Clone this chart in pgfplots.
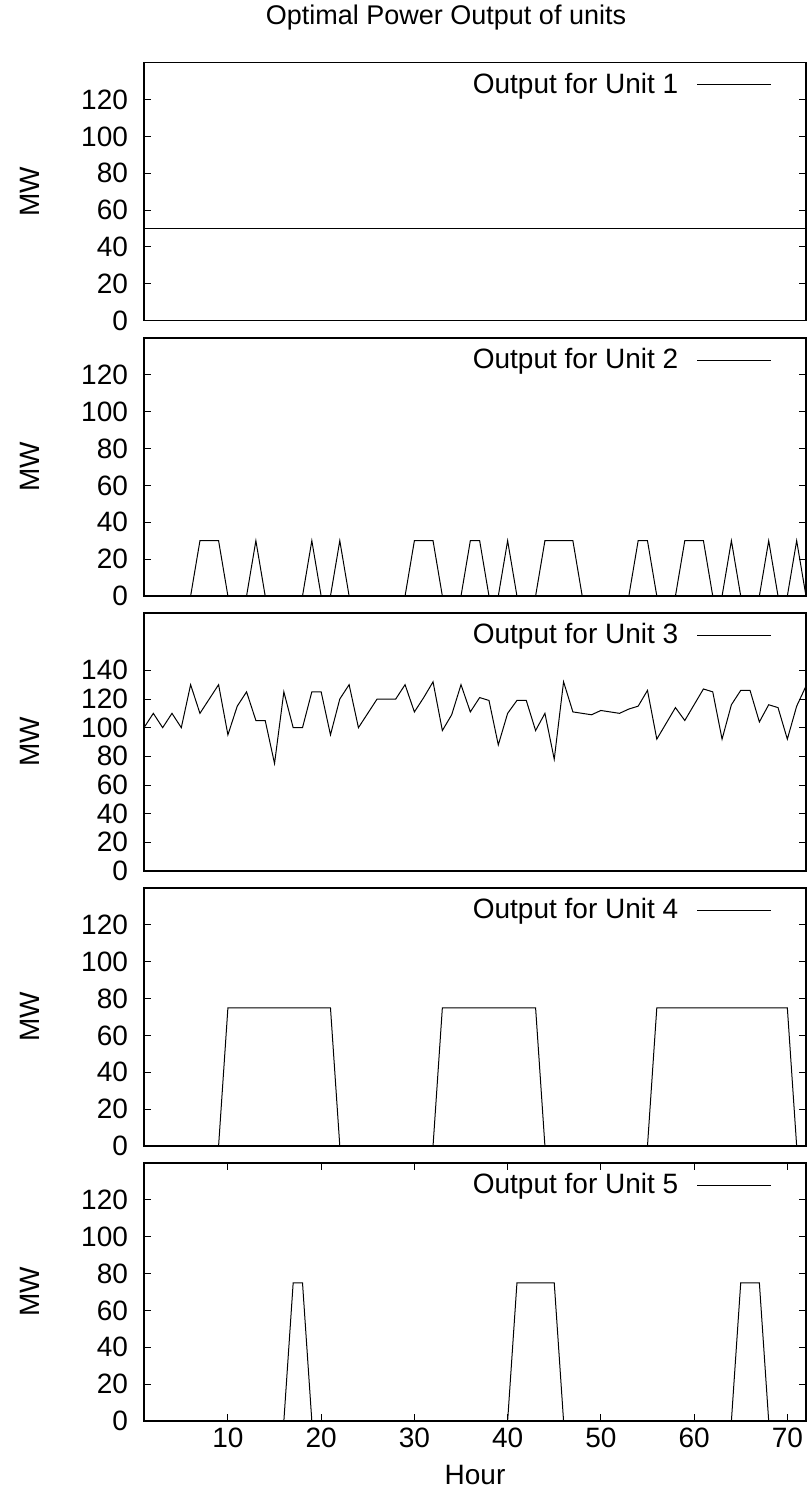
\documentclass[border=0pt]{standalone}
\usepackage{pgfplots}
\pgfplotsset{compat=1.18}
\usepackage{pgfplotstable}
\usepackage{fontspec}
\setmainfont{Liberation Sans}
\newcommand\fs{\fontsize{14}{16}\selectfont}
\newcommand\fst{\fontsize{13.5}{16}\selectfont}

\pgfplotstableread{
h u1 u2 u3 u4 u5
1 50 0 100 0 0
2 50 0 110 0 0
3 50 0 100 0 0
4 50 0 110 0 0
5 50 0 100 0 0
6 50 0 130 0 0
7 50 30 110 0 0
8 50 30 120 0 0
9 50 30 130 0 0
10 50 0 95 75 0
11 50 0 115 75 0
12 50 0 125 75 0
13 50 30 105 75 0
14 50 0 105 75 0
15 50 0 75 75 0
16 50 0 125 75 0
17 50 0 100 75 75
18 50 0 100 75 75
19 50 30 125 75 0
20 50 0 125 75 0
21 50 0 95 75 0
22 50 30 120 0 0
23 50 0 130 0 0
24 50 0 100 0 0
25 50 0 110 0 0
26 50 0 120 0 0
27 50 0 120 0 0
28 50 0 120 0 0
29 50 0 130 0 0
30 50 30 111 0 0
31 50 30 121 0 0
32 50 30 132 0 0
33 50 0 98 75 0
34 50 0 109 75 0
35 50 0 130 75 0
36 50 30 111 75 0
37 50 30 121 75 0
38 50 0 119 75 0
39 50 0 88 75 0
40 50 30 110 75 0
41 50 0 119 75 75
42 50 0 119 75 75
43 50 0 98 75 75
44 50 30 110 0 75
45 50 30 78 0 75
46 50 30 132 0 0
47 50 30 111 0 0
48 50 0 110 0 0
49 50 0 109 0 0
50 50 0 112 0 0
51 50 0 111 0 0
52 50 0 110 0 0
53 50 0 113 0 0
54 50 30 115 0 0
55 50 30 126 0 0
56 50 0 92 75 0
57 50 0 103 75 0
58 50 0 114 75 0
59 50 30 105 75 0
60 50 30 116 75 0
61 50 30 127 75 0
62 50 0 125 75 0
63 50 0 92 75 0
64 50 30 116 75 0
65 50 0 126 75 75
66 50 0 126 75 75
67 50 0 104 75 75
68 50 30 116 75 0
69 50 0 114 75 0
70 50 0 92 75 0
71 50 30 115 0 0
72 50 0 129 0 0
}\datatable

\pgfplotsset{
  unitpanel/.style={
    width=331pt, height=129pt, scale only axis,
    xmin=1, xmax=72, ymin=0, ymax=140,
    ytick={0,20,...,120},
    xtick=\empty,
    tick align=inside,
    major tick length=3.5pt,
    tick style={line width=0.5pt, black},
    axis line style={line width=0.7pt},
    ylabel={MW},
    ylabel style={at={(axis description cs:-0.172,0.5)}, anchor=center, font=\fs},
    yticklabel style={xshift=-4.5pt, font=\fs},
    xticklabel style={font=\fs},
    /pgf/number format/assume math mode=true,
    legend style={draw=none, fill=none, at={(rel axis cs:1,1)}, anchor=north east,
      xshift=-17pt, yshift=-5.2pt, inner sep=0pt, outer sep=0pt,
      nodes={inner sep=0pt, font=\fs}, /tikz/column sep=9.35pt},
    legend cell align=right,
    legend plot pos=right,
    legend image code/.code={\draw[##1] (0pt,0pt) -- (37pt,0pt);},
  }
}

\begin{document}
\begin{tikzpicture}
\path[use as bounding box] (0,0) rectangle (404.5pt,-753pt);
\node[font=\fst] at (223pt,-9pt) {Optimal Power Output of units};

\begin{axis}[unitpanel, at={(72pt,-31.35pt)}, anchor=north west]
\addplot[black, line width=0.5pt] table[x=h, y=u1] {\datatable};
\addlegendentry{Output for Unit 1}
\end{axis}

\begin{axis}[unitpanel, at={(72pt,-169pt)}, anchor=north west]
\addplot[black, line width=0.5pt] table[x=h, y=u2] {\datatable};
\addlegendentry{Output for Unit 2}
\end{axis}

\begin{axis}[unitpanel, at={(72pt,-306.5pt)}, anchor=north west, ymax=180, ytick={0,20,...,140}]
\addplot[black, line width=0.5pt] table[x=h, y=u3] {\datatable};
\addlegendentry{Output for Unit 3}
\end{axis}

\begin{axis}[unitpanel, at={(72pt,-444pt)}, anchor=north west]
\addplot[black, line width=0.5pt] table[x=h, y=u4] {\datatable};
\addlegendentry{Output for Unit 4}
\end{axis}

\begin{axis}[unitpanel, at={(72pt,-581.5pt)}, anchor=north west,
  xtick={10,20,...,70}, xlabel={Hour},
  xlabel style={at={(axis description cs:0.5,0)}, anchor=center, yshift=-27pt, font=\fs}]
\addplot[black, line width=0.5pt] table[x=h, y=u5] {\datatable};
\addlegendentry{Output for Unit 5}
\end{axis}
\end{tikzpicture}
\end{document}
